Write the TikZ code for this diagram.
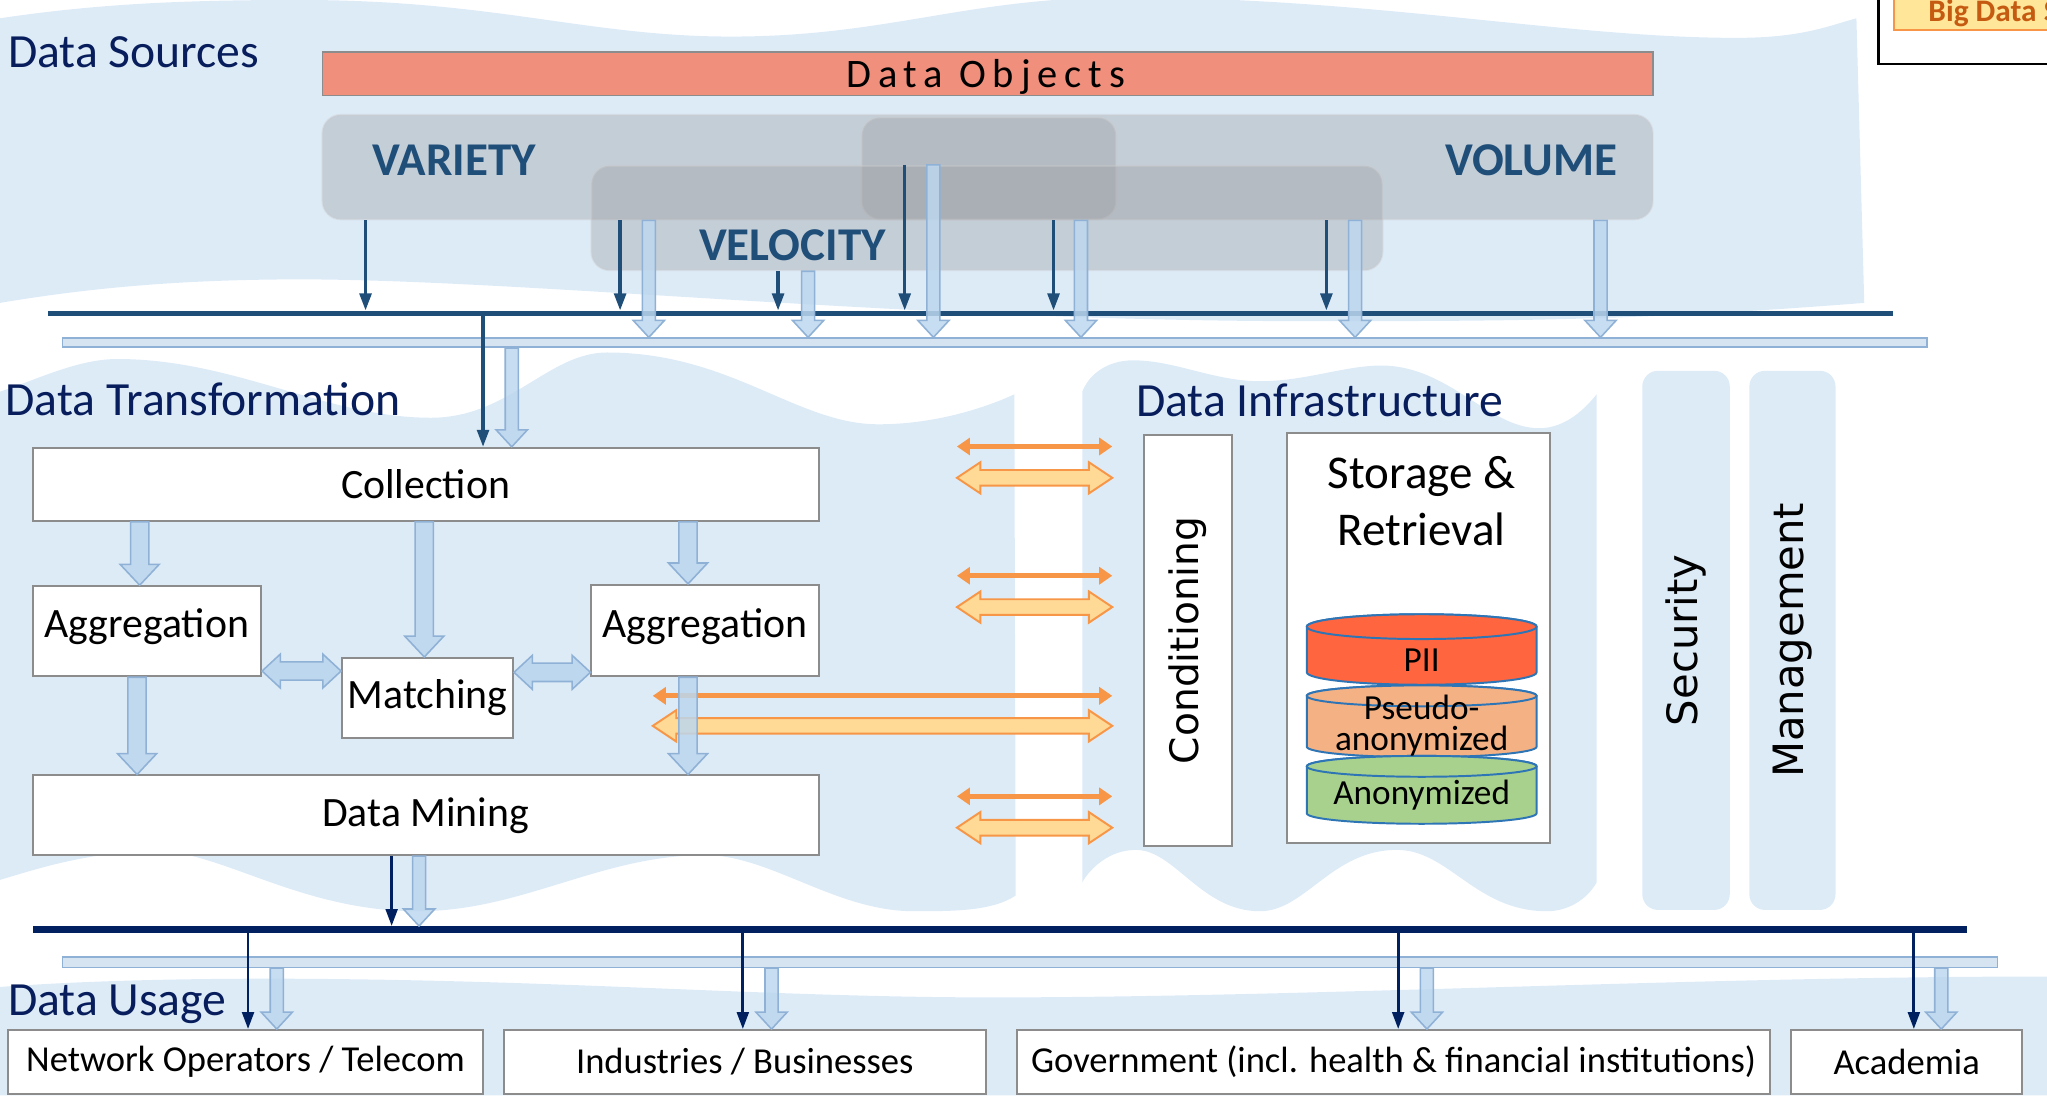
\documentclass[tikz,border=0pt]{standalone}
\usepackage{fontspec}
\setmainfont{Carlito}
\newfontfamily\widefont{DejaVu Sans}
\newfontfamily\spacedfont[LetterSpace=17]{Carlito}
\usetikzlibrary{arrows.meta,calc}

\definecolor{zone}{RGB}{221,235,247}
\definecolor{navy}{RGB}{8,30,92}
\definecolor{steel}{RGB}{31,78,121}
\definecolor{busnavy}{RGB}{0,32,96}
\definecolor{salmon}{RGB}{240,143,124}
\definecolor{vgray}{RGB}{153,155,159}
\definecolor{lbfill}{RGB}{189,215,238}
\definecolor{lbdraw}{RGB}{143,177,214}
\definecolor{lbbar}{RGB}{214,228,242}
\definecolor{orline}{RGB}{247,150,70}
\definecolor{orfill}{RGB}{255,217,150}
\definecolor{boxgray}{RGB}{140,140,140}
\definecolor{piicol}{RGB}{255,101,63}
\definecolor{pseudocol}{RGB}{244,177,131}
\definecolor{anoncol}{RGB}{169,209,142}
\definecolor{cylblue}{RGB}{46,117,182}
\definecolor{legfill}{RGB}{255,230,153}
\definecolor{legtext}{RGB}{197,90,17}

\begin{document}
\begin{tikzpicture}[x=1pt,y=-1pt,
    head/.style={text=navy,font=\fontsize{36.5}{42}\selectfont,anchor=west,inner sep=0},
    vbox/.style={rounded corners=14pt,fill=vgray,fill opacity=0.36,draw=vgray!50,draw opacity=0.4,line width=1.5pt,inner sep=0},
    vtext/.style={text=steel,font=\bfseries\fontsize{36}{42}\selectfont},
    stepbox/.style={draw=boxgray,line width=1.5pt,fill=white,font=\fontsize{32}{38}\selectfont,inner sep=0},
    usebox/.style={stepbox,font=\fontsize{28}{32}\selectfont},
    darkarr/.style={draw=steel,line width=2.5pt,-{Triangle[length=13pt,width=9pt]}},
    usearr/.style={darkarr,draw=busnavy,line width=2.2pt},
    bus/.style={fill=steel,minimum height=4pt,inner sep=0},
    lightbus/.style={fill=lbbar,draw=lbdraw,line width=1.2pt,minimum height=7pt,inner sep=0},
    fatdown/.style n args={3}{draw=lbdraw,fill=lbfill,fill opacity=0.85,line width=1.2pt,
      to path={let \p1=(\tikztostart),\p2=(\tikztotarget) in
        (\x1-#1,\y1) -- (\x1-#1,\y2+#3) -- (\x1-#2,\y2+#3) -- (\x1,\y2) -- (\x1+#2,\y2+#3)
        -- (\x1+#1,\y2+#3) -- (\x1+#1,\y1) -- cycle}},
    fatboth/.style n args={3}{
      to path={let \p1=(\tikztostart),\p2=(\tikztotarget) in
        (\x1,\y1) -- (\x1+#3,\y1+#2) -- (\x1+#3,\y1+#1) -- (\x2-#3,\y1+#1) -- (\x2-#3,\y1+#2)
        -- (\x2,\y1) -- (\x2-#3,\y1-#2) -- (\x2-#3,\y1-#1) -- (\x1+#3,\y1-#1) -- (\x1+#3,\y1-#2) -- cycle}},
    smallfat/.style={fatdown={5pt}{12pt}{13pt}},
    bigfat/.style={fatdown={7pt}{15pt}{16pt}},
    blueboth/.style={fatboth={7pt}{13pt}{14pt},draw=lbdraw,fill=lbfill,line width=1.2pt},
    orthin/.style={draw=orline,line width=4pt,{Triangle[length=10pt,width=13pt]}-{Triangle[length=10pt,width=13pt]}},
    orfat/.style={fatboth={6pt}{12pt}{18pt},draw=orline,fill=orfill,line width=1.5pt},
    pillar/.style={fill=zone,rounded corners=12pt,inner sep=0},
    cyl/.style={draw=cylblue,line width=1.5pt},
    cyltext/.style={font=\fontsize{27}{24}\selectfont,inner sep=0}]

    \useasboundingbox (0,0) rectangle (1568,839);
    \clip (0,0) rectangle (1568,839);

    \fill[zone] (0,14) .. controls (80,2) and (150,0) .. (230,0)
        .. controls (380,0) and (450,28) .. (560,28)
        .. controls (680,28) and (740,-2) .. (860,-2)
        .. controls (1050,-2) and (1200,29) .. (1330,29)
        .. controls (1380,29) and (1400,20) .. (1422,14)
        -- (1428,232)
        .. controls (1250,246) and (1150,246) .. (1000,246)
        .. controls (700,246) and (400,214) .. (230,214)
        .. controls (130,214) and (60,222) .. (0,232) -- cycle;
    \fill[zone] (0,300) .. controls (30,290) and (60,275) .. (90,275)
        .. controls (180,275) and (250,320) .. (330,320)
        .. controls (390,320) and (420,270) .. (465,270)
        .. controls (560,270) and (610,325) .. (673,325)
        .. controls (720,325) and (760,310) .. (777,302)
        -- (778,686)
        .. controls (760,698) and (730,698) .. (700,698)
        .. controls (640,698) and (590,655) .. (540,655)
        .. controls (460,655) and (400,698) .. (320,698)
        .. controls (230,698) and (170,652) .. (120,652)
        .. controls (70,652) and (30,665) .. (0,674) -- cycle;
    \fill[zone] (829,300) .. controls (835,285) and (850,276) .. (868,276)
        .. controls (900,276) and (930,292) .. (965,292)
        .. controls (1000,292) and (1030,280) .. (1058,280)
        .. controls (1110,280) and (1140,328) .. (1179,328)
        .. controls (1200,328) and (1215,312) .. (1223,302)
        -- (1223,676)
        .. controls (1215,690) and (1200,698) .. (1185,698)
        .. controls (1130,698) and (1110,651) .. (1070,651)
        .. controls (1020,651) and (1000,698) .. (965,698)
        .. controls (920,698) and (900,651) .. (870,651)
        .. controls (850,651) and (835,665) .. (829,676) -- cycle;
    \fill[zone] (0,756) .. controls (80,750) and (180,749) .. (260,750)
        .. controls (450,752) and (600,764) .. (760,764)
        .. controls (1000,764) and (1300,748) .. (1568,748)
        -- (1568,839) -- (0,839) -- cycle;

    \draw[line width=2pt] (1439,-10) rectangle (1600,49);
    \node[draw=orline,fill=legfill,line width=1.5pt,anchor=north west,minimum width=150pt,minimum height=32pt] (legbox) at (1450,-10) {};
    \node[anchor=west,inner sep=0,text=legtext,font=\bfseries\fontsize{24}{28}\selectfont] (legtxt) at (1477,10) {Big Data S};

    \node[head] (hsrc) at (6,40) {Data Sources};
    \node[draw=boxgray,line width=1.2pt,fill=salmon,minimum width=1019pt,minimum height=33pt,inner sep=0] (objects) at (756.5,56.5) {};
    \node[inner sep=0,font=\spacedfont\fontsize{31}{36}\selectfont] (objtext) at (755,59) {Data Objects};

    \node[vbox,minimum width=1019pt,minimum height=80pt] (vv) at (756.5,128) {};
    \node[vbox,minimum width=195pt,minimum height=78pt] (vmid) at (757.5,129) {};
    \node[vbox,minimum width=606pt,minimum height=80pt] (vel) at (756,167) {};
    \node[vtext] (variety) at (348,123) {VARIETY};
    \node[vtext] (volume) at (1173,123) {VOLUME};
    \node[vtext] (velocity) at (607,188) {VELOCITY};

    \node[bus,minimum width=1413pt] (srcbus) at (743.5,240) {};
    \node[lightbus,minimum width=1428pt] (srclight) at (762,262.5) {};

    \foreach \xa in {280,475,807,1016}
        \draw[darkarr] (vv.south -| \xa,0) -- (srcbus.north -| \xa,0);
    \draw[darkarr] (vel.south -| 596,0) -- (srcbus.north -| 596,0);
    \draw[darkarr] (vel.north -| 693,0) -- (srcbus.north -| 693,0);
    \foreach \xa in {497,828,1038,1226}
        \draw[smallfat] (vv.south -| \xa,0) to (srclight.north -| \xa,0);
    \draw[smallfat] (vel.south -| 619,0) to (srclight.north -| 619,0);
    \draw[smallfat] (vel.north -| 715,0) to (srclight.north -| 715,0);

    \node[head] (htrans) at (4,306) {Data Transformation};
    \node[stepbox,minimum width=602pt,minimum height=56pt] (collect) at (326,371) {Collection};
    \node[stepbox,minimum width=175pt,minimum height=69pt,text depth=12pt] (aggl) at (112.5,483.5) {Aggregation};
    \node[stepbox,minimum width=174pt,minimum height=70pt,text depth=12pt] (aggr) at (540,483) {Aggregation};
    \node[stepbox,minimum width=131pt,minimum height=61pt] (match) at (327.5,534.5) {Matching};
    \node[stepbox,minimum width=602pt,minimum height=61pt] (mining) at (326,624.5) {Data Mining};

    \draw[darkarr] (srcbus.south -| 370,0) -- (collect.north -| 370,0);
    \draw[smallfat] (srclight.south -| 392,0) to (collect.north -| 392,0);

    \coordinate (orl) at (733,0);
    \coordinate (orm) at (500,0);
    \coordinate (orr) at (852,0);
    \foreach \ya in {342,441,610}
        \draw[orthin] (orl |- 0,\ya) -- (orr |- 0,\ya);
    \foreach \ya in {366,465,634}
        \draw[orfat] (orl |- 0,\ya) to (orr |- 0,\ya);
    \draw[orthin] (orm |- 0,533) -- (orr |- 0,533);
    \draw[orfat] (orm |- 0,556) to (orr |- 0,556);

    \draw[bigfat] (collect.south -| 107,0) to (aggl.north -| 107,0);
    \draw[bigfat] (collect.south -| 325,0) to (match.north -| 325,0);
    \draw[bigfat] (collect.south -| 527,0) to (aggr.north -| 527,0);
    \draw[bigfat] (aggl.south -| 105,0) to (mining.north -| 105,0);
    \draw[bigfat] (aggr.south -| 527,0) to (mining.north -| 527,0);
    \draw[blueboth] (aggl.east |- 0,514) to (match.west |- 0,514);
    \draw[blueboth] (match.east |- 0,515) to (aggr.west |- 0,515);

    \node[head] (hinfra) at (870,307) {Data Infrastructure};
    \node[stepbox,rotate=90,minimum width=315pt,minimum height=68pt,font=\widefont\fontsize{30}{36}\selectfont] (cond) at (910,490.5) {Conditioning};
    \node[stepbox,minimum width=201pt,minimum height=314pt] (store) at (1086.5,489) {};
    \node[font=\fontsize{36}{44}\selectfont,align=center] (storetitle) at (1089,384) {Storage \&\\Retrieval};
    \foreach \ytop/\ybot/\rad/\fillc in {480/515/9.5/piicol,533/572/8/pseudocol,587/623/8/anoncol} {
        \draw[cyl,fill=\fillc] (1001,\ytop) -- (1001,\ybot)
            arc[start angle=180,end angle=360,x radius=88pt,y radius=\rad pt]
            -- (1177,\ytop) arc[start angle=0,end angle=180,x radius=88pt,y radius=\rad pt] -- cycle;
        \draw[cyl,fill=\fillc] (1089,\ytop) ellipse[x radius=88pt,y radius=\rad pt];
    }
    \node[cyltext] (pii) at (1089,506) {PII};
    \node[cyltext,align=center] (pseudo) at (1089,556) {Pseudo-\\anonymized};
    \node[cyltext] (anon) at (1089,609) {Anonymized};

    \node[pillar,rotate=90,minimum width=413pt,minimum height=67pt,font=\widefont\fontsize{32}{38}\selectfont] (security) at (1291.5,490.5) {Security};
    \node[pillar,rotate=90,minimum width=413pt,minimum height=66pt,font=\widefont\fontsize{32}{38}\selectfont] (manage) at (1373,490.5) {Management};

    \node[bus,fill=busnavy,minimum width=1482pt,minimum height=5pt] (usebus) at (766,712) {};
    \node[lightbus,minimum width=1482pt,minimum height=8pt] (uselight) at (789,737) {};
    \draw[usearr] (mining.south -| 300,0) -- (usebus.north -| 300,0);
    \draw[smallfat] (mining.south -| 321,0) to (usebus.north -| 321,0);

    \node[head] (huse) at (6,769) {Data Usage};
    \node[usebox,minimum width=364pt,minimum height=49pt] (telecom) at (188,813.5) {Network Operators / Telecom};
    \node[usebox,minimum width=369pt,minimum height=49pt] (industry) at (570.5,813.5) {Industries / Businesses};
    \node[usebox,minimum width=577pt,minimum height=49pt] (gov) at (1067.5,813.5) {Government (incl. health \& financial institutions)};
    \node[usebox,minimum width=177pt,minimum height=49pt] (academia) at (1460.5,813.5) {Academia};
    \foreach \bx/\dx/\hx in {telecom/190/212,industry/569/591,gov/1071/1093,academia/1466/1487} {
        \draw[usearr] (usebus.south -| \dx,0) -- (\bx.north -| \dx,0);
        \draw[smallfat] (uselight.south -| \hx,0) to (\bx.north -| \hx,0);
    }
\end{tikzpicture}
\end{document}
